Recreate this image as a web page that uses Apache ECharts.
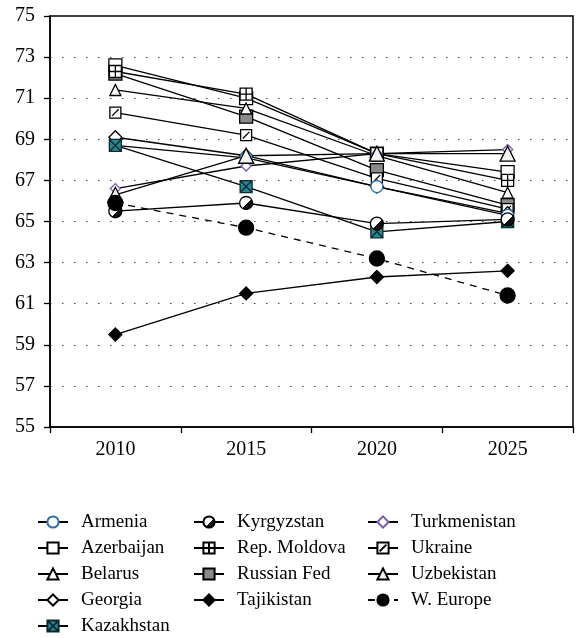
<!DOCTYPE html>
<html>
<head>
<meta charset="utf-8">
<script src="https://cdn.jsdelivr.net/npm/echarts@6/dist/echarts.min.js"></script>
<style>
html,body{margin:0;padding:0;background:#fff;}
#chart{width:588px;height:638px;}
</style>
</head>
<body>
<div id="chart"></div>
<script>
const years = ['2010', '2015', '2020', '2025'];

const armenia      = [68.7, 68.1, 66.7, 65.3];
const azerbaijan   = [72.6, 71.0, 68.3, 67.4];
const belarus      = [71.4, 70.5, 68.2, 66.4];
const georgia      = [69.1, 68.2, 66.7, 65.4];
const kazakhstan   = [68.7, 66.7, 64.5, 65.0];
const kyrgyzstan   = [65.5, 65.9, 64.9, 65.1];
const moldova      = [72.3, 71.2, 68.3, 67.0];
const russia       = [72.2, 70.1, 67.5, 65.8];
const tajikistan   = [59.5, 61.5, 62.3, 62.6];
const turkmenistan = [66.6, 67.7, 68.3, 68.5];
const ukraine      = [70.3, 69.2, 67.1, 65.6];
const uzbekistan   = [66.3, 68.2, 68.3, 68.3];
const weurope      = [65.9, 64.7, 63.2, 61.4];

const yTicks = { min: 55, max: 75, interval: 2 };

const FONT = '"Liberation Serif", "DejaVu Serif", serif';

function mk(name, data, symbol, size, fill, border, dashed) {
  return {
    name: name,
    type: 'line',
    data: data,
    symbol: symbol,
    symbolSize: size,
    showAllSymbol: true,
    animation: false,
    lineStyle: { color: '#000', width: 1.3, type: dashed ? [7, 6] : 'solid' },
    itemStyle: { color: fill, borderColor: border, borderWidth: 1.3, opacity: 1 },
    emphasis: { disabled: true }
  };
}

const kyrFill = {
  type: 'linear', x: 0, y: 0, x2: 1, y2: 1,
  colorStops: [
    { offset: 0, color: '#fff' }, { offset: 0.55, color: '#fff' },
    { offset: 0.55, color: '#111' }, { offset: 1, color: '#111' }
  ]
};

const series = [
  mk('Russian Fed', russia, 'rect', 13, '#8a8a8a', '#000'),
  mk('Azerbaijan', azerbaijan, 'rect', 13, '#fff', '#000'),
  mk('Rep. Moldova', moldova, 'path://M0,0H10V10H0Z M5,0V10 M0,5H10', 12, '#fff', '#000'),
  mk('Belarus', belarus, 'triangle', 11, '#fff', '#000'),
  mk('Ukraine', ukraine, 'path://M0,0H10V10H0Z M2,8L8,2', 11, '#fff', '#000'),
  mk('Georgia', georgia, 'diamond', 13, '#fff', '#000'),
  mk('Armenia', armenia, 'circle', 12, '#fff', '#2f6fae'),
  mk('Kazakhstan', kazakhstan, 'path://M0,0H10V10H0Z M0,0L10,10 M10,0L0,10', 12, '#2a8595', '#0c2a30'),
  mk('Turkmenistan', turkmenistan, 'diamond', 10, '#fff', '#7a5aa8'),
  mk('Uzbekistan', uzbekistan, 'triangle', 15, '#f2f2f2', '#000'),
  mk('Kyrgyzstan', kyrgyzstan, 'circle', 13, kyrFill, '#000'),
  mk('Tajikistan', tajikistan, 'diamond', 13, '#000', '#000'),
  mk('W. Europe', weurope, 'circle', 15, '#000', '#000', true)
];

function legend(names, left) {
  return {
    orient: 'vertical',
    left: left,
    top: 512,
    height: 126,
    padding: 0,
    data: names,
    itemWidth: 30,
    itemHeight: 14,
    itemGap: 6,
    selectedMode: false,
    textStyle: { fontFamily: FONT, fontSize: 19, color: '#000', lineHeight: 20, padding: [0, 0, 0, 8] }
  };
}

const chart = echarts.init(document.getElementById('chart'), null, { renderer: 'canvas' });
chart.setOption({
  animation: false,
  backgroundColor: '#fff',
  grid: { left: 50, right: 15, top: 16, bottom: 211, show: true, borderColor: '#000', borderWidth: 1.5, backgroundColor: 'transparent' },
  legend: [
    legend(['Armenia', 'Azerbaijan', 'Belarus', 'Georgia', 'Kazakhstan'], 37),
    legend(['Kyrgyzstan', 'Rep. Moldova', 'Russian Fed', 'Tajikistan'], 193),
    legend(['Turkmenistan', 'Ukraine', 'Uzbekistan', 'W. Europe'], 367)
  ],
  xAxis: {
    type: 'category',
    data: years,
    boundaryGap: true,
    axisLine: { show: true, lineStyle: { color: '#000', width: 1.5 } },
    axisTick: { show: true, inside: false, length: 6, lineStyle: { color: '#000', width: 1.3 } },
    axisLabel: { fontFamily: FONT, fontSize: 20, color: '#000', margin: 13 },
    splitLine: { show: false }
  },
  yAxis: {
    type: 'value',
    min: yTicks.min,
    max: yTicks.max,
    interval: yTicks.interval,
    axisLine: { show: true, lineStyle: { color: '#000', width: 1.5 } },
    axisTick: { show: true, inside: false, length: 6, lineStyle: { color: '#000', width: 1.3 } },
    axisLabel: { fontFamily: FONT, fontSize: 20, color: '#000', margin: 15 },
    splitLine: { show: true, lineStyle: { color: '#444', width: 1.2, type: [1.5, 10.5] } }
  },
  series: series
});
</script>
</body>
</html>
